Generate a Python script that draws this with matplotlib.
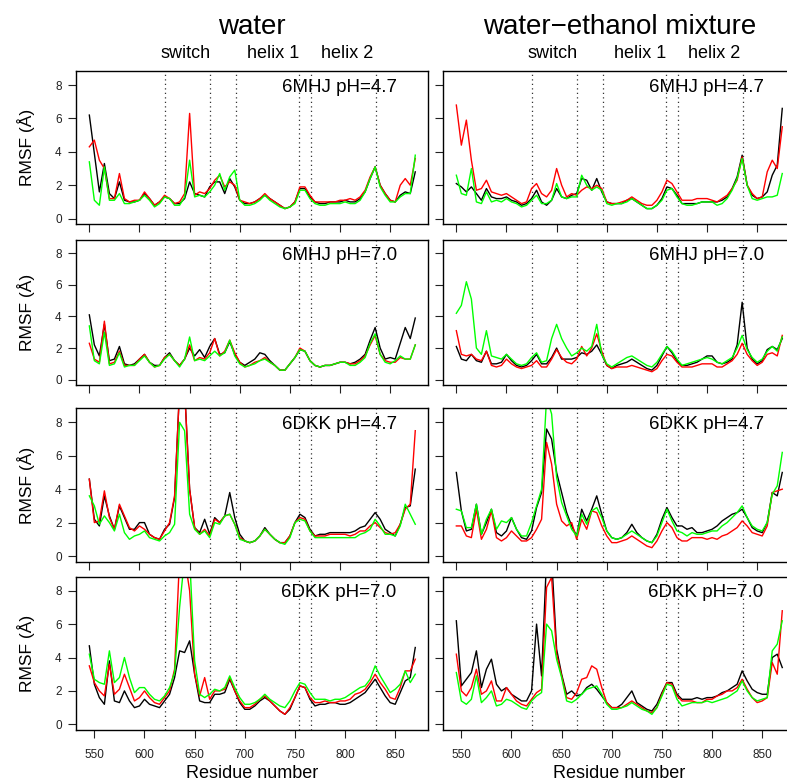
import numpy as np
import matplotlib
matplotlib.use("Agg")
import matplotlib.pyplot as plt
from matplotlib.transforms import blended_transform_factory

plt.rcParams['font.family'] = ['Liberation Sans', 'DejaVu Sans']

# ---------------- data ----------------
residues = np.arange(545, 871, 5)

# water, 6MHJ pH=4.7
w_mhj47_black = [6.2, 3.9, 1.6, 3.3, 1.5, 1.2, 2.2, 1.1, 1.0, 1.0,
                 1.1, 1.5, 1.2, 0.8, 1.0, 1.3, 1.2, 0.9, 0.9, 1.2,
                 2.2, 1.5, 1.4, 1.3, 1.9, 2.2, 2.2, 1.5, 2.4, 1.9,
                 1.1, 0.9, 0.9, 1.0, 1.2, 1.4, 1.2, 1.0, 0.8, 0.6,
                 0.7, 1.0, 1.8, 1.8, 1.3, 1.0, 0.9, 0.9, 1.0, 1.0,
                 1.0, 1.1, 1.0, 1.0, 1.2, 1.6, 2.4, 3.1, 2.0, 1.5,
                 1.1, 1.0, 1.4, 1.6, 1.5, 2.8]
w_mhj47_red = [4.3, 4.7, 3.5, 3.0, 1.2, 1.2, 2.7, 1.2, 1.0, 1.1,
               1.1, 1.6, 1.2, 0.8, 1.0, 1.4, 1.2, 0.9, 1.0, 1.5,
               6.3, 1.4, 1.6, 1.5, 1.8, 2.3, 2.6, 1.9, 2.2, 2.0,
               1.1, 1.0, 0.9, 1.0, 1.2, 1.5, 1.2, 1.0, 0.8, 0.6,
               0.7, 1.0, 1.9, 1.9, 1.4, 1.0, 1.0, 1.0, 1.0, 1.0,
               1.1, 1.1, 1.2, 1.1, 1.3, 1.7, 2.5, 3.1, 2.0, 1.5,
               1.1, 1.0, 2.0, 2.4, 2.0, 3.6]
w_mhj47_green = [3.4, 1.1, 0.8, 3.1, 1.1, 1.1, 1.5, 0.9, 0.9, 1.0,
                 1.1, 1.4, 1.1, 0.7, 0.9, 1.3, 1.2, 0.8, 0.8, 1.3,
                 3.5, 1.3, 1.4, 1.3, 1.6, 2.0, 2.7, 1.7, 2.5, 2.9,
                 1.1, 0.8, 0.8, 0.9, 1.1, 1.4, 1.1, 0.9, 0.7, 0.6,
                 0.7, 0.9, 1.7, 1.7, 1.2, 0.9, 0.8, 0.8, 0.9, 0.9,
                 0.9, 1.0, 0.9, 0.9, 1.1, 1.6, 2.4, 3.1, 1.9, 1.4,
                 1.0, 1.0, 1.3, 1.5, 1.5, 3.8]

# water, 6MHJ pH=7.0
w_mhj70_black = [4.1, 2.2, 1.5, 3.5, 1.2, 1.3, 2.1, 1.0, 0.9, 1.0,
                 1.3, 1.6, 1.1, 0.9, 0.9, 1.4, 1.7, 1.2, 0.9, 1.3,
                 2.0, 1.5, 1.9, 1.4, 2.1, 2.6, 1.6, 1.7, 2.4, 1.6,
                 1.1, 0.9, 1.1, 1.3, 1.7, 1.6, 1.2, 0.9, 0.6, 0.6,
                 1.0, 1.4, 1.9, 1.8, 1.2, 0.9, 0.8, 0.9, 0.9, 1.0,
                 1.1, 1.1, 1.0, 1.1, 1.3, 1.6, 2.5, 3.3, 2.0, 1.3,
                 1.4, 1.3, 2.3, 3.3, 2.6, 3.9]
w_mhj70_red = [2.3, 1.3, 1.1, 3.7, 1.0, 1.1, 1.8, 0.9, 0.9, 0.9,
               1.3, 1.6, 1.1, 0.8, 0.9, 1.4, 1.6, 1.2, 0.9, 1.3,
               2.2, 1.2, 1.4, 1.3, 1.7, 2.6, 1.5, 1.8, 2.5, 1.7,
               1.1, 0.8, 0.9, 1.1, 1.2, 1.4, 1.1, 0.9, 0.6, 0.6,
               1.0, 1.4, 2.0, 1.8, 1.2, 0.9, 0.8, 0.9, 0.9, 1.0,
               1.1, 1.1, 1.0, 1.0, 1.2, 1.5, 2.2, 2.8, 1.6, 1.2,
               1.1, 1.1, 1.4, 1.3, 1.3, 2.2]
w_mhj70_green = [3.4, 1.2, 1.0, 3.0, 0.9, 1.0, 1.7, 0.8, 0.9, 0.9,
                 1.2, 1.5, 1.1, 0.8, 0.9, 1.3, 1.6, 1.2, 0.8, 1.3,
                 2.7, 1.2, 1.3, 1.2, 1.5, 1.8, 1.5, 1.7, 2.5, 1.5,
                 1.0, 0.8, 0.9, 1.0, 1.2, 1.3, 1.1, 0.9, 0.6, 0.6,
                 1.0, 1.4, 1.9, 1.8, 1.2, 0.9, 0.8, 0.9, 0.9, 1.0,
                 1.1, 1.1, 0.9, 0.9, 1.1, 1.4, 2.3, 2.9, 1.6, 1.1,
                 1.0, 1.2, 1.5, 1.3, 1.3, 2.2]

# water, 6DKK pH=4.7
w_dkk47_black = [4.6, 2.2, 1.8, 3.6, 2.4, 1.6, 3.0, 2.3, 1.6, 1.6,
                 2.0, 2.0, 1.3, 1.1, 1.0, 1.6, 1.9, 3.5, 10.0, 10.0,
                 4.0, 1.7, 1.4, 2.2, 1.3, 2.3, 2.0, 2.4, 3.8, 2.3,
                 1.3, 0.9, 0.8, 0.9, 1.2, 1.7, 1.3, 1.0, 0.8, 0.8,
                 1.2, 2.0, 2.5, 2.3, 1.6, 1.2, 1.3, 1.3, 1.4, 1.4,
                 1.4, 1.4, 1.4, 1.5, 1.7, 1.8, 2.2, 2.6, 2.2, 1.6,
                 1.4, 1.2, 1.9, 2.9, 3.0, 5.2]
w_dkk47_red = [4.6, 2.0, 2.1, 3.9, 2.3, 1.6, 3.1, 2.4, 1.7, 1.5,
               1.8, 1.6, 1.3, 1.1, 1.0, 1.5, 2.0, 3.6, 10.0, 10.0,
               4.0, 1.7, 1.3, 1.6, 1.2, 2.2, 2.0, 2.4, 2.5, 1.9,
               1.1, 0.9, 0.8, 0.9, 1.2, 1.6, 1.3, 1.0, 0.8, 0.8,
               1.2, 2.0, 2.3, 2.2, 1.5, 1.2, 1.2, 1.2, 1.3, 1.3,
               1.3, 1.3, 1.2, 1.3, 1.5, 1.5, 1.8, 2.0, 1.7, 1.4,
               1.3, 1.4, 1.9, 2.8, 3.1, 7.5]
w_dkk47_green = [3.6, 3.0, 1.9, 2.4, 2.0, 1.5, 2.5, 1.4, 1.0, 1.2,
                 1.3, 1.5, 1.1, 1.0, 0.9, 1.2, 1.4, 1.9, 8.0, 7.5,
                 2.5, 1.6, 1.3, 1.5, 1.1, 2.0, 1.9, 2.4, 2.5, 1.9,
                 1.0, 0.9, 0.8, 0.9, 1.2, 1.6, 1.3, 1.0, 0.8, 0.7,
                 1.1, 2.0, 2.2, 2.1, 1.5, 1.1, 1.1, 1.1, 1.1, 1.1,
                 1.1, 1.1, 1.1, 1.1, 1.3, 1.4, 1.6, 2.2, 1.8, 1.3,
                 1.3, 1.2, 1.8, 3.1, 2.5, 1.9]

# water, 6DKK pH=7.0
w_dkk70_black = [4.7, 2.4, 1.6, 1.2, 3.8, 1.4, 1.3, 2.0, 1.4, 1.0,
                 1.1, 1.5, 1.2, 1.1, 1.0, 1.4, 1.8, 2.8, 4.4, 4.3,
                 5.0, 3.0, 1.4, 1.3, 1.3, 1.8, 1.8, 1.9, 2.7, 2.0,
                 1.3, 0.9, 0.9, 1.1, 1.4, 1.6, 1.4, 1.1, 0.8, 0.6,
                 0.9, 1.6, 2.3, 2.2, 1.5, 1.1, 1.2, 1.2, 1.3, 1.3,
                 1.2, 1.2, 1.3, 1.5, 1.7, 1.9, 2.3, 2.7, 2.2, 1.7,
                 1.3, 1.2, 1.9, 2.6, 2.8, 4.6]
w_dkk70_red = [3.5, 2.5, 2.0, 1.7, 3.6, 1.8, 2.1, 3.0, 2.2, 1.4,
               1.6, 2.0, 1.6, 1.3, 1.2, 1.6, 2.0, 3.3, 10.0, 10.0,
               8.0, 3.0, 1.7, 2.8, 1.5, 2.0, 2.0, 2.1, 2.8, 2.0,
               1.4, 1.0, 1.0, 1.2, 1.5, 1.7, 1.4, 1.1, 0.8, 0.6,
               1.0, 1.6, 2.3, 2.2, 1.6, 1.3, 1.3, 1.4, 1.3, 1.3,
               1.4, 1.4, 1.5, 1.8, 1.9, 2.1, 2.5, 3.0, 2.5, 2.1,
               1.6, 1.5, 2.2, 3.2, 3.2, 3.9]
w_dkk70_green = [4.2, 2.7, 2.5, 2.4, 4.4, 2.5, 2.8, 4.0, 2.8, 1.9,
                 2.2, 2.2, 1.8, 1.5, 1.4, 1.7, 2.2, 3.1, 7.0, 10.0,
                 10.0, 3.8, 1.8, 1.6, 1.8, 2.1, 2.0, 2.2, 2.9, 2.2,
                 1.6, 1.2, 1.2, 1.3, 1.5, 1.8, 1.5, 1.3, 1.1, 1.0,
                 1.4, 2.0, 2.5, 2.4, 1.9, 1.5, 1.5, 1.5, 1.4, 1.5,
                 1.5, 1.6, 1.8, 2.0, 2.2, 2.3, 2.7, 3.5, 2.9, 2.4,
                 1.9, 2.1, 2.4, 3.2, 2.5, 3.0]

# water-ethanol, 6MHJ pH=4.7
e_mhj47_black = [2.1, 1.9, 1.6, 1.9, 1.5, 1.1, 1.8, 1.3, 1.2, 1.2,
                 1.3, 1.1, 1.0, 0.8, 0.9, 1.2, 1.7, 1.0, 0.8, 1.1,
                 1.8, 1.3, 1.2, 1.4, 1.5, 2.4, 2.3, 1.7, 2.4, 1.6,
                 1.0, 0.9, 0.9, 0.9, 1.1, 1.2, 1.0, 0.8, 0.6, 0.6,
                 0.8, 1.2, 1.9, 1.8, 1.4, 0.9, 0.9, 0.9, 0.9, 1.0,
                 1.0, 1.0, 1.0, 1.1, 1.3, 1.8, 2.5, 3.8, 2.0, 1.4,
                 1.2, 1.3, 1.6, 2.6, 3.2, 6.6]
e_mhj47_red = [6.8, 4.4, 5.9, 3.5, 1.7, 1.8, 2.3, 1.6, 1.5, 1.4,
               1.5, 1.3, 1.1, 0.9, 1.0, 1.8, 2.1, 1.5, 1.3, 1.7,
               3.0, 2.0, 1.3, 1.5, 1.4, 1.7, 1.9, 1.8, 2.0, 1.8,
               1.0, 0.9, 0.9, 1.0, 1.1, 1.3, 1.1, 0.9, 0.8, 0.8,
               1.1, 1.6, 2.3, 2.1, 1.6, 1.1, 1.1, 1.1, 1.2, 1.2,
               1.2, 1.1, 1.0, 1.2, 1.4, 1.8, 2.3, 3.7, 2.0, 1.5,
               1.2, 1.3, 2.8, 3.5, 3.0, 5.5]
e_mhj47_green = [2.6, 1.5, 1.4, 3.0, 1.0, 0.9, 1.6, 1.0, 1.1, 1.0,
                 1.2, 1.0, 0.9, 0.7, 0.8, 1.1, 1.4, 0.9, 0.9, 1.1,
                 2.1, 1.3, 1.2, 1.3, 1.3, 2.6, 2.0, 1.7, 1.9, 1.7,
                 0.9, 0.8, 0.9, 0.9, 1.0, 1.2, 1.0, 0.8, 0.6, 0.6,
                 0.8, 1.1, 1.7, 1.8, 1.3, 0.9, 0.8, 0.8, 0.9, 1.0,
                 1.0, 1.0, 0.8, 0.9, 1.2, 1.7, 2.4, 3.6, 2.0, 1.2,
                 1.1, 1.2, 1.3, 1.3, 1.4, 2.7]

# water-ethanol, 6MHJ pH=7.0
e_mhj70_black = [2.1, 1.3, 1.2, 1.6, 1.2, 1.1, 1.8, 1.0, 1.0, 1.1,
                 1.6, 1.2, 0.9, 0.8, 0.9, 1.2, 1.6, 1.0, 1.0, 1.4,
                 2.0, 1.3, 1.3, 1.3, 1.4, 1.7, 1.6, 1.8, 2.2, 1.6,
                 0.9, 0.7, 0.9, 1.0, 1.1, 1.3, 1.1, 0.9, 0.7, 0.6,
                 0.9, 1.5, 2.1, 1.7, 1.2, 0.9, 0.9, 1.0, 1.1, 1.3,
                 1.5, 1.5, 1.1, 1.0, 1.1, 1.3, 2.2, 4.9, 2.0, 1.3,
                 1.0, 1.2, 1.9, 2.1, 1.9, 2.6]
e_mhj70_red = [3.1, 1.6, 1.5, 1.6, 1.3, 1.2, 1.8, 0.9, 0.8, 0.9,
               1.3, 1.0, 0.8, 0.7, 0.8, 0.9, 1.2, 0.8, 0.8, 1.3,
               1.9, 1.4, 1.1, 1.0, 1.3, 2.1, 1.5, 2.0, 2.9, 1.8,
               0.9, 0.7, 0.8, 0.8, 0.8, 0.9, 0.8, 0.7, 0.6, 0.5,
               0.7, 1.2, 1.6, 1.5, 1.1, 0.8, 0.8, 0.8, 0.9, 1.0,
               1.0, 1.0, 0.8, 0.8, 1.0, 1.2, 1.6, 2.3, 1.6, 1.2,
               0.9, 1.1, 1.6, 1.7, 1.5, 2.8]
e_mhj70_green = [4.2, 4.7, 6.2, 5.1, 2.0, 1.6, 3.1, 1.5, 1.4, 1.3,
                 1.6, 1.3, 1.0, 0.9, 1.0, 1.4, 1.7, 1.1, 1.2, 2.6,
                 3.5, 2.6, 2.0, 1.5, 1.7, 2.0, 1.8, 2.1, 3.5, 1.6,
                 1.0, 0.8, 1.0, 1.2, 1.4, 1.5, 1.3, 1.1, 0.9, 0.8,
                 1.1, 1.6, 2.1, 1.8, 1.3, 0.9, 1.0, 1.1, 1.2, 1.3,
                 1.4, 1.3, 1.1, 1.0, 1.2, 1.4, 2.0, 2.8, 1.9, 1.4,
                 1.1, 1.3, 1.8, 2.1, 1.8, 2.7]

# water-ethanol, 6DKK pH=4.7
e_dkk47_black = [5.0, 2.7, 1.5, 1.6, 3.1, 1.3, 2.0, 2.8, 1.4, 1.2,
                 1.5, 2.3, 1.6, 1.1, 1.0, 1.5, 2.9, 3.8, 7.6, 7.0,
                 5.0, 3.8, 2.6, 1.8, 1.2, 2.8, 2.1, 2.8, 3.6, 2.5,
                 1.5, 1.1, 1.0, 1.1, 1.4, 1.9, 1.4, 1.1, 0.9, 0.8,
                 1.3, 2.2, 2.9, 2.3, 1.8, 1.8, 1.6, 1.7, 1.4, 1.4,
                 1.5, 1.6, 1.8, 2.1, 2.3, 2.5, 2.6, 2.8, 2.3, 1.7,
                 1.5, 1.4, 2.0, 3.8, 3.6, 5.0]
e_dkk47_red = [1.8, 1.8, 1.2, 1.1, 2.8, 1.0, 1.6, 2.7, 1.1, 0.9,
               1.1, 1.5, 1.2, 0.9, 0.9, 1.1, 1.6, 2.2, 6.8, 5.5,
               3.1, 2.1, 1.8, 2.0, 1.0, 2.2, 1.6, 2.7, 2.6, 1.8,
               1.2, 0.8, 0.8, 0.9, 1.0, 1.2, 1.0, 0.8, 0.6, 0.5,
               0.9, 1.5, 2.0, 1.7, 1.1, 0.9, 0.9, 1.1, 1.1, 1.1,
               1.0, 1.1, 1.0, 1.2, 1.3, 1.5, 1.7, 2.1, 1.8, 1.4,
               1.3, 1.2, 1.8, 3.8, 3.9, 4.0]
e_dkk47_green = [2.8, 2.7, 1.7, 1.7, 3.1, 1.3, 2.2, 2.8, 1.6, 2.1,
                 2.0, 2.3, 1.6, 1.2, 1.2, 2.0, 3.0, 4.0, 9.5, 8.5,
                 4.7, 3.2, 2.4, 1.6, 1.2, 2.5, 1.9, 2.7, 2.9, 2.3,
                 1.5, 1.1, 1.0, 1.1, 1.3, 1.5, 1.3, 1.1, 0.9, 0.8,
                 1.2, 2.0, 2.8, 2.1, 1.5, 1.4, 1.2, 1.4, 1.3, 1.3,
                 1.4, 1.5, 1.5, 1.8, 2.0, 2.3, 2.6, 3.0, 2.3, 1.8,
                 1.6, 1.5, 2.0, 3.7, 4.2, 6.2]

# water-ethanol, 6DKK pH=7.0
e_dkk70_black = [6.2, 2.3, 2.7, 3.1, 4.4, 2.2, 3.3, 3.9, 2.4, 2.0,
                 2.2, 1.8, 1.6, 1.4, 1.4, 2.0, 6.0, 2.9, 10.0, 10.0,
                 4.5, 3.0, 1.8, 2.0, 1.7, 1.8, 2.2, 2.4, 2.1, 1.7,
                 1.3, 1.0, 1.0, 1.2, 1.6, 2.0, 1.3, 1.1, 0.9, 0.8,
                 1.2, 1.9, 2.5, 2.5, 1.8, 1.5, 1.5, 1.5, 1.6, 1.5,
                 1.6, 1.6, 1.7, 1.9, 2.0, 2.2, 2.4, 3.2, 2.6, 2.1,
                 1.9, 1.8, 1.8, 4.0, 4.2, 3.4]
e_dkk70_red = [4.2, 2.0, 1.7, 2.2, 3.3, 1.8, 2.0, 2.6, 1.4, 1.4,
               2.2, 1.8, 1.4, 1.2, 1.1, 1.5, 1.9, 2.1, 8.2, 8.8,
               4.2, 2.9, 1.6, 1.5, 1.9, 2.7, 2.8, 3.5, 3.3, 2.2,
               1.3, 1.0, 1.0, 1.0, 1.2, 1.4, 1.2, 1.0, 0.8, 0.7,
               1.0, 1.8, 2.5, 2.4, 1.7, 1.4, 1.4, 1.4, 1.3, 1.3,
               1.5, 1.5, 1.7, 1.8, 2.0, 2.0, 2.2, 2.7, 2.1, 1.6,
               1.3, 1.4, 1.6, 3.7, 3.0, 6.8]
e_dkk70_green = [3.1, 1.4, 1.2, 1.5, 2.9, 1.3, 1.6, 2.0, 1.1, 1.2,
                 1.5, 1.4, 1.2, 1.0, 0.9, 1.4, 1.7, 1.9, 6.0, 5.6,
                 3.9, 2.8, 1.4, 1.3, 1.5, 1.8, 2.1, 2.2, 2.3, 1.8,
                 1.2, 0.9, 0.9, 1.0, 1.1, 1.3, 1.1, 0.9, 0.8, 0.6,
                 1.0, 1.7, 2.4, 2.3, 1.5, 1.1, 1.2, 1.3, 1.3, 1.3,
                 1.4, 1.3, 1.4, 1.5, 1.6, 1.8, 2.0, 2.6, 2.0, 1.6,
                 1.4, 1.5, 1.6, 4.4, 4.8, 6.2]

column_titles = ["water", "water\u2212ethanol mixture"]
panel_labels = ["6MHJ pH=4.7", "6MHJ pH=7.0", "6DKK pH=4.7", "6DKK pH=7.0"]
region_names = ["switch", "helix 1", "helix 2"]
region_name_at = [641, 728, 802]
region_bounds = [620, 665, 691, 754, 766, 831]
series_colors = ["black", "#FF0000", "#00FF00"]

panels = [
    [(w_mhj47_black, w_mhj47_red, w_mhj47_green), (e_mhj47_black, e_mhj47_red, e_mhj47_green)],
    [(w_mhj70_black, w_mhj70_red, w_mhj70_green), (e_mhj70_black, e_mhj70_red, e_mhj70_green)],
    [(w_dkk47_black, w_dkk47_red, w_dkk47_green), (e_dkk47_black, e_dkk47_red, e_dkk47_green)],
    [(w_dkk70_black, w_dkk70_red, w_dkk70_green), (e_dkk70_black, e_dkk70_red, e_dkk70_green)],
]

# ---------------- layout ----------------
W, H = 787, 783
fig = plt.figure(figsize=(W / 100, H / 100), dpi=100)

col_px = [(76.3, 428.3), (443.3, 795.3)]
row_px = [(71.0, 224.3), (240.0, 385.0), (408.3, 561.7), (576.7, 730.0)]


def add_ax(l, t, r, b):
    return fig.add_axes([l / W, 1 - b / H, (r - l) / W, (b - t) / H])


for ri, (top, bot) in enumerate(row_px):
    for ci, (left, right) in enumerate(col_px):
        ax = add_ax(left, top, right, bot)
        ax.set_xlim(532, 883)
        ax.set_ylim(-0.34, 8.84)
        for rb in region_bounds:
            ax.axvline(rb, color='0.2', lw=0.9, linestyle=(0, (1, 2.6)), zorder=1)
        for vals, col in zip(panels[ri][ci], series_colors):
            ax.plot(residues, vals, color=col, lw=1.0, zorder=2)
        for s in ax.spines.values():
            s.set_linewidth(1.0)
        ax.set_yticks([0, 2, 4, 6, 8])
        ax.tick_params(axis='both', direction='out', length=6, width=0.8,
                       labelsize=8.5, pad=4.5, colors='#222222')
        if ci == 1:
            ax.set_yticklabels([])
        if ri == 3:
            ax.set_xticks([550, 600, 650, 700, 750, 800, 850])
            ax.tick_params(axis='x', pad=8)
        else:
            ax.set_xticks([545, 595, 645, 695, 745, 795, 845])
            ax.set_xticklabels([])
        # panel label
        fig.text((left + 320.4) / W, 1 - (top + 20.5) / H, panel_labels[ri],
                 ha='right', va='baseline', fontsize=13.5)
        if ri == 0:
            tr = blended_transform_factory(ax.transData, fig.transFigure)
            for name, xpos in zip(region_names, region_name_at):
                ax.text(xpos, 1 - 57.5 / H, name, transform=tr, ha='center',
                        va='baseline', fontsize=13, clip_on=False)
            fig.text((left + right) / 2 / W, 1 - 34 / H, column_titles[ci],
                     ha='center', va='baseline', fontsize=20)
        if ri == 3:
            fig.text((left + right) / 2 / W, 1 - 777.5 / H, "Residue number",
                     ha='center', va='baseline', fontsize=13)
        if ci == 0:
            fig.text(26 / W, 1 - (top + bot) / 2 / H, "RMSF (\u00c5)", rotation=90,
                     ha='center', va='center', fontsize=12.5)

fig.savefig("out.png", dpi=100)
